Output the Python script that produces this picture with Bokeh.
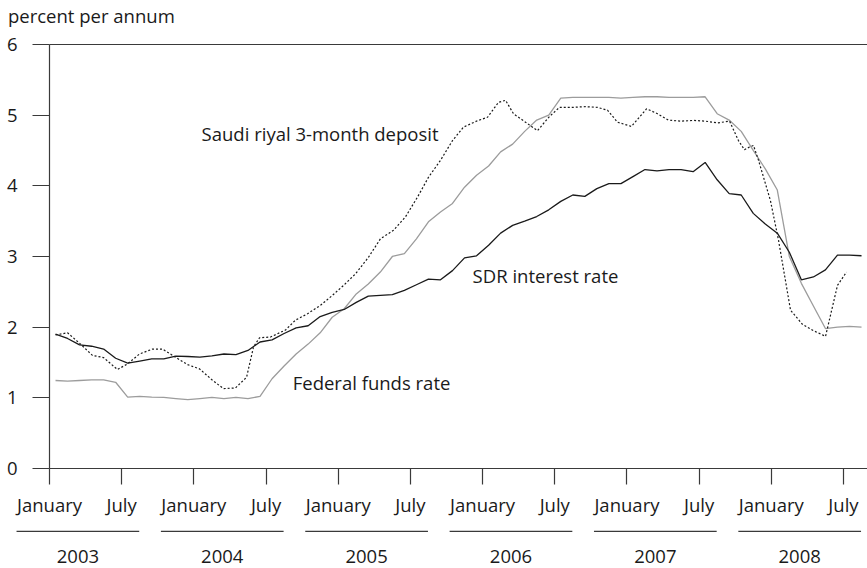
from bokeh.plotting import figure
from bokeh.models import Range1d, LinearAxis, FixedTicker
from bokeh.core.properties import value
from bokeh.embed import file_html
from bokeh.resources import INLINE

# ---------------- data ----------------
years = ["2003", "2004", "2005", "2006", "2007", "2008"]
half_year_labels = ["January", "July"]
y_ticks = [0, 1, 2, 3, 4, 5, 6]

# monthly values, January 2003 .. August 2008 (percent per annum)
sdr_rate = [1.90, 1.84, 1.75, 1.73, 1.69, 1.56, 1.49, 1.52, 1.55, 1.55, 1.59, 1.585,
            1.575, 1.595, 1.62, 1.61, 1.67, 1.79, 1.82, 1.91, 1.99, 2.02, 2.15, 2.21,
            2.25, 2.35, 2.44, 2.45, 2.46, 2.52, 2.60, 2.68, 2.67, 2.80, 2.98, 3.01,
            3.16, 3.33, 3.44, 3.50, 3.565, 3.66, 3.78, 3.87, 3.85, 3.96, 4.03, 4.03,
            4.13, 4.23, 4.21, 4.23, 4.23, 4.20, 4.33, 4.085, 3.89, 3.87, 3.61, 3.46,
            3.33, 3.06, 2.67, 2.71, 2.81, 3.02, 3.02, 3.01]

fed_funds = [1.245, 1.235, 1.245, 1.255, 1.255, 1.22, 1.01, 1.02, 1.01, 1.005, 0.99, 0.975,
             0.99, 1.005, 0.99, 1.005, 0.99, 1.02, 1.27, 1.45, 1.62, 1.76, 1.92, 2.14,
             2.26, 2.47, 2.61, 2.78, 3.00, 3.04, 3.25, 3.49, 3.63, 3.75, 3.98, 4.15,
             4.28, 4.48, 4.59, 4.77, 4.93, 5.00, 5.24, 5.25, 5.25, 5.25, 5.25, 5.24,
             5.25, 5.26, 5.26, 5.25, 5.25, 5.25, 5.26, 5.02, 4.93, 4.77, 4.50, 4.24,
             3.94, 3.00, 2.62, 2.30, 1.98, 2.00, 2.01, 2.00]

# Saudi riyal 3-month deposit: months elapsed since start of January 2003
deposit_month = [0.50, 1.50, 2.58, 3.57, 4.49, 5.65, 6.48, 7.48, 8.56, 9.39, 10.47, 11.47,
                 12.47, 13.47, 14.46, 15.46, 16.38, 16.96, 17.46, 18.37, 19.62, 20.45, 21.45,
                 22.53, 23.52, 24.44, 25.44, 26.52, 27.51, 28.59, 29.59, 30.59, 31.50, 32.50,
                 33.50, 34.41, 35.57, 36.41, 37.32, 37.91, 38.57, 39.57, 40.56, 41.56, 42.39,
                 43.47, 44.55, 45.55, 46.38, 47.22, 48.38, 49.63, 50.54, 51.45, 52.45, 53.53,
                 54.53, 55.53, 56.53, 57.27, 57.77, 58.19, 58.52, 58.94, 59.93, 60.60, 61.60,
                 62.59, 63.51, 64.51, 65.50, 66.25]
deposit_rate = [1.89, 1.92, 1.76, 1.60, 1.57, 1.40, 1.48, 1.62, 1.69, 1.69, 1.575, 1.47,
                1.41, 1.26, 1.13, 1.14, 1.29, 1.72, 1.85, 1.86, 1.96, 2.10, 2.19,
                2.31, 2.45, 2.59, 2.755, 2.99, 3.25, 3.37, 3.56, 3.84, 4.12, 4.36,
                4.64, 4.83, 4.92, 4.97, 5.18, 5.21, 5.02, 4.90, 4.78, 4.98, 5.11,
                5.11, 5.12, 5.11, 5.07, 4.90, 4.84, 5.09, 5.02, 4.93, 4.915, 4.925,
                4.915, 4.89, 4.915, 4.64, 4.51, 4.55, 4.57, 4.36, 3.79, 3.23, 2.24,
                2.04, 1.95, 1.87, 2.59, 2.78]

# ---------------- styling ----------------
FONT = "Open Sans"
FS = "18.5px"
TXT = "#1a1a1a"
AX = "#3a3a3a"

month_x = [i + 0.5 for i in range(len(sdr_rate))]
n_months = len(years) * 12
tick_pos = [k * 6 for k in range(n_months // 6)]
tick_labels = {t: half_year_labels[(t // 6) % 2] for t in tick_pos}

p = figure(width=867, height=568, output_backend="svg", toolbar_location=None,
           x_range=Range1d(-4.073, 67.997), y_range=Range1d(-1.415, 6.622),
           x_axis_type=None, y_axis_type=None, min_border=0)
p.outline_line_color = None
p.background_fill_color = "white"
p.border_fill_color = "white"

# x axis (months) at y = 0
xa = LinearAxis(fixed_location=0, bounds=(0, n_months), ticker=FixedTicker(ticks=tick_pos),
                major_label_overrides=tick_labels)
xa.axis_line_color = AX
xa.axis_line_width = 1.2
xa.major_tick_line_color = AX
xa.major_tick_line_width = 1.2
xa.major_tick_out = 16
xa.major_tick_in = 0
xa.minor_tick_line_color = None
xa.major_label_standoff = 8
xa.major_label_text_font = FONT
xa.major_label_text_font_size = FS
xa.major_label_text_color = TXT
p.add_layout(xa, "below")

# y axis at January 2003
ya = LinearAxis(fixed_location=0, bounds=(0, 6), ticker=FixedTicker(ticks=y_ticks))
ya.axis_line_color = AX
ya.axis_line_width = 1.2
ya.major_tick_line_color = AX
ya.major_tick_line_width = 1.2
ya.major_tick_out = 17
ya.major_tick_in = 0
ya.minor_tick_line_color = None
ya.major_label_standoff = 15
ya.major_label_text_font = FONT
ya.major_label_text_font_size = FS
ya.major_label_text_color = TXT
p.add_layout(ya, "left")

# top frame line at y = 6
ta = LinearAxis(fixed_location=6, bounds=(0, n_months), ticker=FixedTicker(ticks=[]))
ta.axis_line_color = AX
ta.axis_line_width = 1.2
ta.major_tick_line_color = None
ta.minor_tick_line_color = None
ta.major_label_text_font_size = "0px"
p.add_layout(ta, "above")

# series
p.line(month_x, fed_funds, line_color="#9c9c9c", line_width=1.3)
p.line(month_x, sdr_rate, line_color="#1a1a1a", line_width=1.3)
p.line(deposit_month, deposit_rate, line_color="#1a1a1a", line_width=1.2, line_dash="2 2")

# year group labels with underlines
year_start = [i * 12 for i in range(len(years))]
p.segment(x0=[s - 2.74 for s in year_start], y0=[-0.891] * len(years),
          x1=[s + 7.46 for s in year_start], y1=[-0.891] * len(years),
          line_color=AX, line_width=1.2)
p.text(x=[s + 2.36 for s in year_start], y=[-1.245] * len(years), text=years,
       text_font=value(FONT), text_font_size=FS, text_color=TXT,
       text_align="center", text_baseline="alphabetic")

# unit label
p.text(x=[-3.45], y=[6.41], text=["percent per annum"], text_font=value(FONT),
       text_font_size=FS, text_color=TXT, text_align="left", text_baseline="alphabetic")

# series labels
p.text(x=[22.49, 41.23, 26.77], y=[4.74, 2.73, 1.22],
       text=["Saudi riyal 3-month deposit", "SDR interest rate", "Federal funds rate"],
       text_font=value(FONT), text_font_size=FS, text_color=TXT,
       text_align="center", text_baseline="alphabetic")

open("out.html", "w").write(file_html(p, INLINE))
